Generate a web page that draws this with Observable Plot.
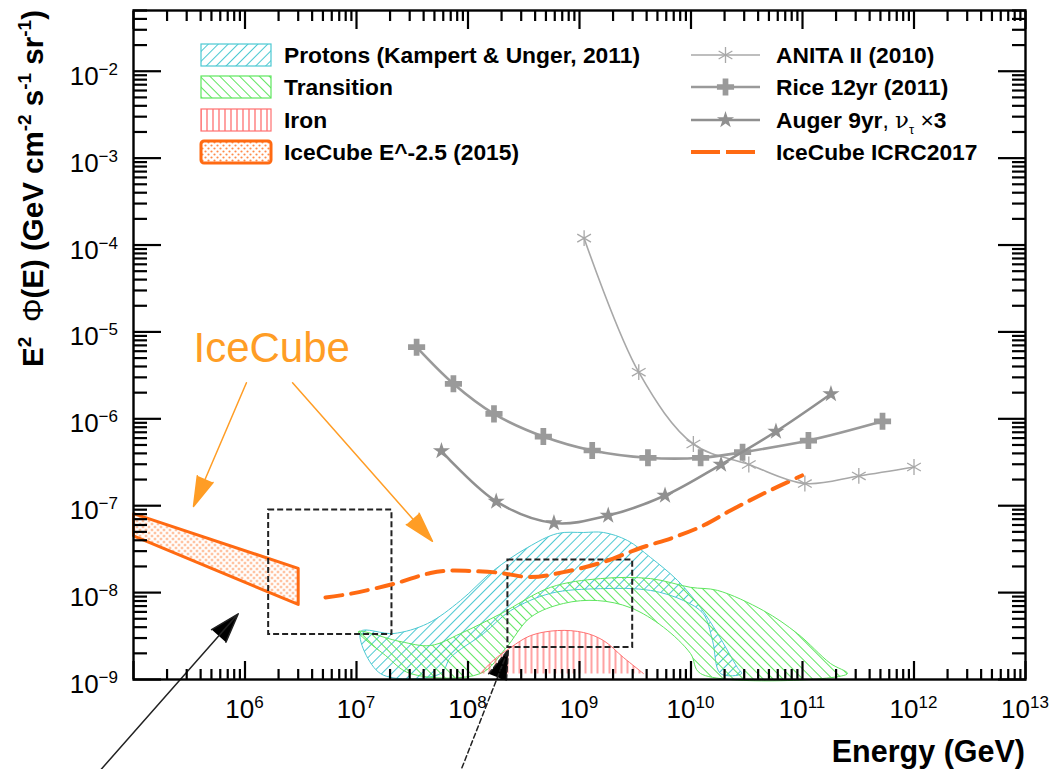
<!DOCTYPE html>
<html>
<head>
<meta charset="utf-8">
<script src="https://cdn.jsdelivr.net/npm/d3@7"></script>
<script src="https://cdn.jsdelivr.net/npm/@observablehq/plot@0.6"></script>
<style>
  body { margin: 0; background: #fff; }
  #chart { width: 1054px; height: 769px; }
</style>
</head>
<body>
<div id="chart"></div>
<script>
// ---------------- data ----------------
const xLabelTicks = [1e6, 1e7, 1e8, 1e9, 1e10, 1e11, 1e12, 1e13];
const yLabelTicks = [1e-9, 1e-8, 1e-7, 1e-6, 1e-5, 1e-4, 1e-3, 1e-2];

// cosmogenic bands [E (GeV), E^2 flux]
const protonUpper = [[1.09e7,3.56e-9],[2.15e7,3.38e-9],[4.33e7,4.4e-9],[8.57e7,8.1e-9],[1.69e8,1.79e-8],[3.42e8,3.3e-8],[6.35e8,4.79e-8],[1.09e9,4.92e-8],[1.64e9,4.92e-8],[2.69e9,3.98e-8],[4.33e9,2.54e-8],[7.57e9,1.38e-8],[1.22e10,6.7e-9],[1.73e10,3.38e-9],[2.61e10,1.37e-9],[2.84e10,1.17e-9]];
const protonLower = [[1.64e7,1.17e-9],[5.67e7,1.17e-9],[6.97e7,1.79e-9],[1.38e8,3.38e-9],[2.41e8,6.2e-9],[5.5e8,9.8e-9],[1.54e9,1.11e-8],[4.33e9,1.06e-8],[8.57e9,8.1e-9],[1.29e10,5.7e-9],[1.56e10,2.81e-9],[1.84e10,1.17e-9]];
const transUpper = [[1.04e7,3.56e-9],[2.48e7,2.73e-9],[4.61e7,2.46e-9],[8.57e7,3.38e-9],[1.96e8,5.7e-9],[5.5e8,1.15e-8],[1.54e9,1.45e-8],[4.33e9,1.45e-8],[9.9e9,1.15e-8],[1.73e10,1.06e-8],[4.47e10,6.2e-9],[9.0e10,3.38e-9],[1.78e11,1.53e-9],[2.53e11,1.17e-9]];
const transLower = [[1.82e7,1.89e-9],[3.05e7,1.17e-9],[1.29e8,1.17e-9],[2.17e8,2.27e-9],[3.64e8,5.2e-9],[7.19e8,7.5e-9],[1.45e9,8.1e-9],[2.87e9,6.7e-9],[5.66e9,4.0e-9],[9.9e9,1.99e-9],[1.22e10,1.17e-9]];
const ironUpper = [[1.29e8,1.17e-9],[1.69e8,1.66e-9],[2.41e8,2.33e-9],[3.64e8,3.2e-9],[6.35e8,3.66e-9],[1.09e9,3.47e-9],[1.64e9,2.81e-9],[2.48e9,1.79e-9],[3.75e9,1.17e-9]];

// IceCube E^-2.5 (2015) band
const ic2015Upper = [[1e5,8.1e-8],[3.0e6,1.9e-8]];
const ic2015Lower = [[1e5,4.5e-8],[3.0e6,7.3e-9]];

// IceCube ICRC2017 sensitivity
const icrcE = [5.27e6,8.83e6,2.15e7,4.61e7,6.97e7,1.05e8,1.84e8,3.64e8,7.19e8,1.64e9,3.52e9,6.97e9,1.29e10,2.26e10,4.47e10,9.9e10];
const icrcF = [8.8e-9,9.7e-9,1.26e-8,1.68e-8,1.79e-8,1.77e-8,1.70e-8,1.51e-8,1.72e-8,2.25e-8,3.26e-8,4.31e-8,5.92e-8,8.81e-8,1.38e-7,2.23e-7];

// ANITA II (2010)
const anitaE = [1.1e9,3.4e9,1.05e10,3.3e10,1.05e11,3.2e11,1.0e12];
const anitaF = [1.2e-4,3.44e-6,5.13e-7,2.98e-7,1.80e-7,2.20e-7,2.79e-7];
// Rice 12yr (2011)
const riceE = [3.46e7,7.4e7,1.71e8,4.74e8,1.30e9,4.11e9,1.22e10,2.90e10,1.13e11,5.22e11];
const riceF = [6.67e-6,2.53e-6,1.14e-6,6.25e-7,4.32e-7,3.56e-7,3.56e-7,4.13e-7,5.62e-7,9.37e-7];
// Auger 9yr, nu_tau x3
const augerE = [5.78e7,1.79e8,5.90e8,1.81e9,5.85e9,1.86e10,5.78e10,1.80e11];
const augerF = [4.26e-7,1.12e-7,6.32e-8,7.71e-8,1.31e-7,2.98e-7,7.14e-7,1.93e-6];

// dashed boxes
const boxes = [
  {x1: 1.63e6, x2: 2.08e7, y1: 3.3e-9, y2: 8.9e-8},
  {x1: 2.28e8, x2: 3.0e9, y1: 2.33e-9, y2: 2.37e-8}
];
// annotation arrows
const orangeArrows = [
  {x1: 1.03e6, y1: 2.6e-6, x2: 3.45e5, y2: 9.8e-8},
  {x1: 2.67e6, y1: 2.6e-6, x2: 4.8e7, y2: 3.9e-8}
];
const blackArrowSolid = [{x1: 4.6e4, y1: 7.9e-11, x2: 8.7e5, y2: 5.7e-9}];
const blackArrowDashed = [{x1: 8.3e7, y1: 7.9e-11, x2: 2.3e8, y2: 2.2e-9}];
const iceCubeLabel = [{E: 3.45e5, F: 4.45e-6, text: "IceCube"}];

// ---------------- styles ----------------
const FONT = "'Liberation Sans', Arial, Helvetica, sans-serif";
const CYAN = "#4cc9d2", GREEN = "#5ee65e", RED = "#ff7070", ORANGE = "#ff6a12", LORANGE = "#ff9d25";
const GANITA = "#a8a8a8", GRICE = "#9a9a9a", GAUGER = "#909090";

const zipXY = (E, F) => E.map((e, i) => [e, F[i]]);
const ring = (up, low) => [...up, ...low.slice().reverse()];

const W = 1054, H = 769, ML = 133, MR = 29, MT = 10, MB = 90;
const X0 = 1e5, X1 = 1e13, Y0 = 1e-9, Y1 = 5e-2;

// tick positions
const xMajor = d3.range(5, 14).map(k => 10 ** k);
const yMajor = d3.range(-9, -1).map(k => 10 ** k);
const xMinor = [], yMinor = [];
for (let k = 5; k < 13; k++) for (let m = 2; m <= 9; m++) xMinor.push(m * 10 ** k);
for (let k = -9; k < -1; k++) for (let m = 2; m <= 9; m++) { const v = m * 10 ** k; if (v <= 0.0500001) yMinor.push(v); }

const px = d => d[0], py = d => d[1];
const noLabel = () => null;
// Plot's own axis marks, with ticks pointing inward (ROOT style) and no text
const tickOpts = {tickFormat: noLabel, label: null, stroke: "#000", strokeWidth: 2.2};

const plot = Plot.plot({
  width: W, height: H,
  marginLeft: ML, marginRight: MR, marginTop: MT, marginBottom: MB,
  x: {type: "log", domain: [X0, X1]},
  y: {type: "log", domain: [Y0, Y1]},
  style: {fontFamily: FONT, background: "#fff", overflow: "visible"},
  marks: [
    // bands
    Plot.line(ring(protonUpper, protonLower), {x: px, y: py, curve: "catmull-rom-closed", fill: "url(#hatchP)", stroke: CYAN, strokeWidth: 1}),
    Plot.line(ring(transUpper, transLower), {x: px, y: py, curve: "catmull-rom-closed", fill: "url(#hatchT)", stroke: GREEN, strokeWidth: 1}),
    Plot.line(ironUpper, {x: px, y: py, curve: "catmull-rom", fill: "url(#hatchI)", stroke: RED, strokeWidth: 1}),
    Plot.line(ring(ic2015Upper, ic2015Lower), {x: px, y: py, curve: "linear-closed", fill: "url(#dotsO)", stroke: ORANGE, strokeWidth: 3}),
    // boxes
    Plot.rect(boxes, {x1: "x1", x2: "x2", y1: "y1", y2: "y2", fill: "none", stroke: "#222", strokeWidth: 2, strokeDasharray: "6,3"}),
    // ICRC2017
    Plot.line(zipXY(icrcE, icrcF), {x: px, y: py, curve: "catmull-rom", stroke: ORANGE, strokeWidth: 4, strokeDasharray: "17,9"}),
    // experiments
    Plot.line(zipXY(anitaE, anitaF), {x: px, y: py, curve: "catmull-rom", stroke: GANITA, strokeWidth: 1.6}),
    Plot.dot(zipXY(anitaE, anitaF), {x: px, y: py, symbol: "asterisk", r: 7.5, stroke: GANITA, strokeWidth: 1.3}),
    Plot.line(zipXY(riceE, riceF), {x: px, y: py, curve: "catmull-rom", stroke: GRICE, strokeWidth: 2.6}),
    Plot.dot(zipXY(riceE, riceF), {x: px, y: py, symbol: "cross", r: 7.2, fill: GRICE, stroke: "none"}),
    Plot.line(zipXY(augerE, augerF), {x: px, y: py, curve: "catmull-rom", stroke: GAUGER, strokeWidth: 2.6}),
    Plot.dot(zipXY(augerE, augerF), {x: px, y: py, symbol: "star", r: 5.4, fill: GAUGER, stroke: "none"}),
    // annotations
    Plot.text(iceCubeLabel, {x: "E", y: "F", text: "text", fill: LORANGE, fontSize: 42, textAnchor: "start", lineAnchor: "bottom"}),
    Plot.arrow(orangeArrows, {x1: "x1", y1: "y1", x2: "x2", y2: "y2", stroke: LORANGE, fill: LORANGE, strokeWidth: 1.5, headLength: 31, headAngle: 32}),
    Plot.arrow(blackArrowSolid, {x1: "x1", y1: "y1", x2: "x2", y2: "y2", stroke: "#222", fill: "#000", strokeWidth: 1.5, headLength: 31, headAngle: 36}),
    Plot.arrow(blackArrowDashed, {x1: "x1", y1: "y1", x2: "x2", y2: "y2", stroke: "#222", fill: "#000", strokeWidth: 1.5, strokeDasharray: "5,3", headLength: 31, headAngle: 36}),
    Plot.frame({stroke: "#000", strokeWidth: 2.4}),
    // inward ticks on all four sides
    Plot.axisX({...tickOpts, anchor: "bottom", ticks: xMajor, tickSize: -18}),
    Plot.axisX({...tickOpts, anchor: "bottom", ticks: xMinor, tickSize: -10}),
    Plot.axisX({...tickOpts, anchor: "top", ticks: xMajor, tickSize: -18}),
    Plot.axisX({...tickOpts, anchor: "top", ticks: xMinor, tickSize: -10}),
    Plot.axisY({...tickOpts, anchor: "left", ticks: yMajor, tickSize: -28}),
    Plot.axisY({...tickOpts, anchor: "left", ticks: yMinor, tickSize: -14}),
    Plot.axisY({...tickOpts, anchor: "right", ticks: yMajor, tickSize: -28}),
    Plot.axisY({...tickOpts, anchor: "right", ticks: yMinor, tickSize: -14})
  ]
});

const svg = d3.select(plot);
const defs = svg.insert("defs", ":first-child");
function hatch(id, color, angle, sp, sw) {
  const p = defs.append("pattern").attr("id", id).attr("patternUnits", "userSpaceOnUse")
    .attr("width", sp).attr("height", sp).attr("patternTransform", `rotate(${angle})`);
  p.append("line").attr("x1", sp / 2).attr("y1", 0).attr("x2", sp / 2).attr("y2", sp)
    .attr("stroke", color).attr("stroke-width", sw);
}
hatch("hatchP", CYAN, 45, 7, 1);
hatch("hatchT", GREEN, -45, 7, 1);
hatch("hatchI", RED, 0, 6, 1.3);
const dp = defs.append("pattern").attr("id", "dotsO").attr("patternUnits", "userSpaceOnUse").attr("width", 6).attr("height", 6);
dp.append("circle").attr("cx", 1.5).attr("cy", 1.5).attr("r", 1.1).attr("fill", "#ff8a4a");
dp.append("circle").attr("cx", 4.5).attr("cy", 4.5).attr("r", 1.1).attr("fill", "#ff8a4a");

const sx = plot.scale("x"), sy = plot.scale("y");
const yBottom = sy.apply(Y0), xLeft = sx.apply(X0), xRight = sx.apply(X1), yTop = sy.apply(Y1);

const g = svg.append("g").attr("font-family", FONT).attr("fill", "#000").attr("text-anchor", "start");

// x tick labels
xLabelTicks.forEach(v => {
  const t = g.append("text").attr("x", sx.apply(v)).attr("y", yBottom + 39)
    .attr("text-anchor", "middle").attr("font-size", 26);
  t.append("tspan").text("10");
  t.append("tspan").attr("font-size", 17).attr("dy", -10).text(Math.round(Math.log10(v)));
});
// y tick labels
yLabelTicks.forEach(v => {
  const t = g.append("text").attr("x", xLeft - 15).attr("y", sy.apply(v) + 14)
    .attr("text-anchor", "end").attr("font-size", 26);
  t.append("tspan").text("10");
  t.append("tspan").attr("font-size", 17).attr("dy", -10).text("\u2212" + Math.abs(Math.round(Math.log10(v))));
});
// axis titles
g.append("text").attr("x", xRight).attr("y", H - 7).attr("text-anchor", "end")
  .attr("font-size", 30.5).attr("font-weight", "bold").text("Energy (GeV)");
const yt = g.append("text").attr("transform", `translate(43,${yTop}) rotate(-90)`)
  .attr("text-anchor", "end").attr("font-size", 29.5).attr("font-weight", "bold");
yt.append("tspan").text("E");
yt.append("tspan").attr("font-size", 19).attr("dy", -12).text("2");
yt.append("tspan").attr("dy", 12).attr("font-weight", "normal").text("\u2002\u03A6");
yt.append("tspan").text("(E) (GeV cm");
yt.append("tspan").attr("font-size", 19).attr("dy", -12).text("-2");
yt.append("tspan").attr("dy", 12).text(" s");
yt.append("tspan").attr("font-size", 19).attr("dy", -12).text("-1");
yt.append("tspan").attr("dy", 12).text(" sr");
yt.append("tspan").attr("font-size", 19).attr("dy", -12).text("-1");
yt.append("tspan").attr("dy", 12).text(")");

// legends
const LFS = 22.8;
const rows = [55, 87, 120, 152];
const leftLegend = [
  {label: "Protons (Kampert & Unger, 2011)", fill: "url(#hatchP)", stroke: CYAN, sw: 1.2},
  {label: "Transition", fill: "url(#hatchT)", stroke: GREEN, sw: 1.2},
  {label: "Iron", fill: "url(#hatchI)", stroke: RED, sw: 1.2},
  {label: "IceCube E^-2.5 (2015)", fill: "url(#dotsO)", stroke: ORANGE, sw: 3}
];
leftLegend.forEach((d, i) => {
  g.append("rect").attr("x", 201).attr("y", rows[i] - 11).attr("width", 70).attr("height", 22)
    .attr("rx", d.sw > 2 ? 3 : 0).attr("fill", d.fill).attr("stroke", d.stroke).attr("stroke-width", d.sw);
  g.append("text").attr("x", 284).attr("y", rows[i] + 7.5).attr("font-size", LFS).attr("font-weight", "bold").text(d.label);
});
const legendSym = (type, r) => d3.symbol().type(type).size(r * r * Math.PI)();
const rightLegend = [
  {color: GANITA, sw: 1.6, sym: d3.symbolAsterisk, r: 7.5, filled: false},
  {color: GRICE, sw: 2.6, sym: d3.symbolCross, r: 7.2, filled: true},
  {color: GAUGER, sw: 2.6, sym: d3.symbolStar, r: 5.4, filled: true}
];
rightLegend.forEach((d, i) => {
  g.append("line").attr("x1", 691).attr("x2", 760).attr("y1", rows[i]).attr("y2", rows[i]).attr("stroke", d.color).attr("stroke-width", d.sw);
  g.append("path").attr("d", legendSym(d.sym, d.r)).attr("transform", `translate(725.5,${rows[i]})`)
    .attr("fill", d.filled ? d.color : "none").attr("stroke", d.filled ? "none" : d.color).attr("stroke-width", 1.3);
});
g.append("line").attr("x1", 691).attr("x2", 760).attr("y1", rows[3]).attr("y2", rows[3])
  .attr("stroke", ORANGE).attr("stroke-width", 4).attr("stroke-dasharray", "29,6");
const rl = (i) => g.append("text").attr("x", 776).attr("y", rows[i] + 7.5).attr("font-size", LFS).attr("font-weight", "bold");
rl(0).text("ANITA II (2010)");
rl(1).text("Rice 12yr (2011)");
const au = rl(2);
au.append("tspan").text("Auger 9yr");
au.append("tspan").attr("font-weight", "normal").text(", ");
au.append("tspan").attr("font-weight", "normal").attr("font-family", "'DejaVu Serif', serif").text("\u03BD");
au.append("tspan").attr("font-weight", "normal").attr("font-size", 13).attr("dy", 6).text("\u03C4");
au.append("tspan").attr("font-weight", "normal").attr("dy", -6).text(" \u00D7");
au.append("tspan").text("3");
rl(3).text("IceCube ICRC2017");

document.getElementById("chart").appendChild(plot);
</script>
</body>
</html>
